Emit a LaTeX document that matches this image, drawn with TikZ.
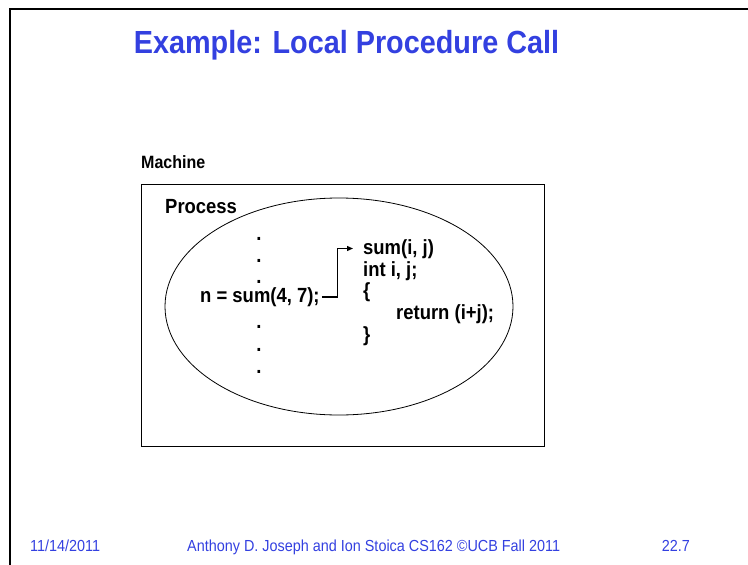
\documentclass[tikz,border=0pt]{standalone}
\usepackage{fontspec}
\setmainfont[FakeStretch=0.9]{Liberation Sans}
\usetikzlibrary{arrows.meta}
\definecolor{slideblue}{RGB}{51,64,224}
\begin{document}
\begin{tikzpicture}[x=1pt,y=-1pt,
  code/.style={font=\bfseries\fontsize{20.5}{23}\selectfont, inner sep=0pt, anchor=base west},
  dotmark/.style={font=\bfseries\fontsize{20.5}{23}\selectfont, inner sep=0pt, anchor=base},
  foot/.style={font=\fontsize{16}{18}\selectfont, text=slideblue, inner sep=0pt, anchor=base west},
  frameline/.style={line width=2pt},
  thin/.style={line width=0.8pt}]
\useasboundingbox (0,0) rectangle (748,565);

% slide frame
\draw[frameline] (9.5,9) -- (748,9);
\draw[frameline] (9.5,8) -- (9.5,565);

% title
\node[font=\bfseries\fontsize{32}{36}\selectfont, text=slideblue, inner sep=0pt, anchor=base]
  (title) at (346.5,53) {Example: Local Procedure Call};

% machine box and process ellipse
\node[font=\bfseries\fontsize{17.8}{20}\selectfont, inner sep=0pt, anchor=base west]
  (machinelbl) at (141,168) {Machine};
\draw[thin] (141.5,184.5) rectangle (544,446);
\draw[thin] (339,306.5) ellipse [x radius=174, y radius=108.5];
\node[code] (processlbl) at (165,213) {Process};

% caller code
\node[dotmark] (d1) at (259,240) {.};
\node[dotmark] (d2) at (259,262) {.};
\node[dotmark] (d3) at (259,283.5) {.};
\node[code] (ncall) at (200,302.5) {n = sum(4, 7);};
\node[dotmark] (d4) at (259,328.5) {.};
\node[dotmark] (d5) at (259,351) {.};
\node[dotmark] (d6) at (259,373.5) {.};

% callee code
\node[code] (sumhead) at (363,254) {sum(i, j)};
\node[code] (decl) at (363,276) {int i, j;};
\node[code] (lbrace) at (363,297.5) {\{};
\node[code] (ret) at (396,319) {return (i+j);};
\node[code] (rbrace) at (363,341) {\}};

% call arrow
\coordinate (callout) at ([shift={(2pt,5.5pt)}]ncall.base east);
\coordinate (callin) at ([shift={(-10pt,5.5pt)}]sumhead.base west);
\draw[line width=1.3pt, -{Triangle[length=6pt,width=5pt]}]
  (callout) -- ++(16,0) |- (callin);

% footer
\node[foot] (date) at (30,551) {11/14/2011};
\node[foot] (credit) at (187,551) {Anthony D. Joseph and Ion Stoica CS162 ©UCB Fall 2011};
\node[foot, anchor=base east] (pagenum) at (690,551) {22.7};
\end{tikzpicture}
\end{document}
